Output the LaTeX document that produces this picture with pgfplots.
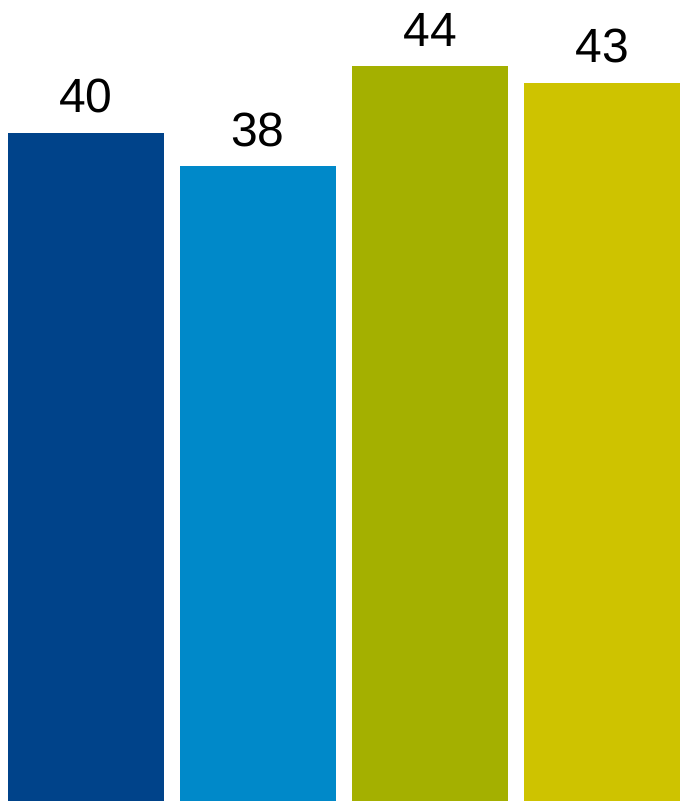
\documentclass[border=0pt]{standalone}
\usepackage{pgfplots}
\pgfplotsset{compat=1.18}
\usepackage{fontspec}
\setmainfont{Liberation Sans}
\definecolor{c1}{HTML}{00438A}
\definecolor{c2}{HTML}{0089C9}
\definecolor{c3}{HTML}{A4B000}
\definecolor{c4}{HTML}{CEC300}
\begin{document}
\begin{tikzpicture}
\begin{axis}[
  scale only axis,
  width=339.5pt, height=400.5pt,
  xmin=-0.5, xmax=3.4477,
  ymin=0, ymax=47.96,
  hide axis,
  clip=false,
  ybar, bar width=0.907, bar shift=0pt,
  nodes near coords,
  every node near coord/.append style={font=\fontsize{24}{28}\selectfont, text=black, anchor=base, inner sep=0pt, yshift=10pt},
  /pgf/number format/assume math mode=true,
]
\path (rel axis cs:0,0) rectangle (rel axis cs:1,1);
\addplot[fill=c1, draw=none] coordinates {(0,40)};
\addplot[fill=c2, draw=none] coordinates {(1,38)};
\addplot[fill=c3, draw=none] coordinates {(2,44)};
\addplot[fill=c4, draw=none] coordinates {(3,43)};
\end{axis}
\end{tikzpicture}
\end{document}
